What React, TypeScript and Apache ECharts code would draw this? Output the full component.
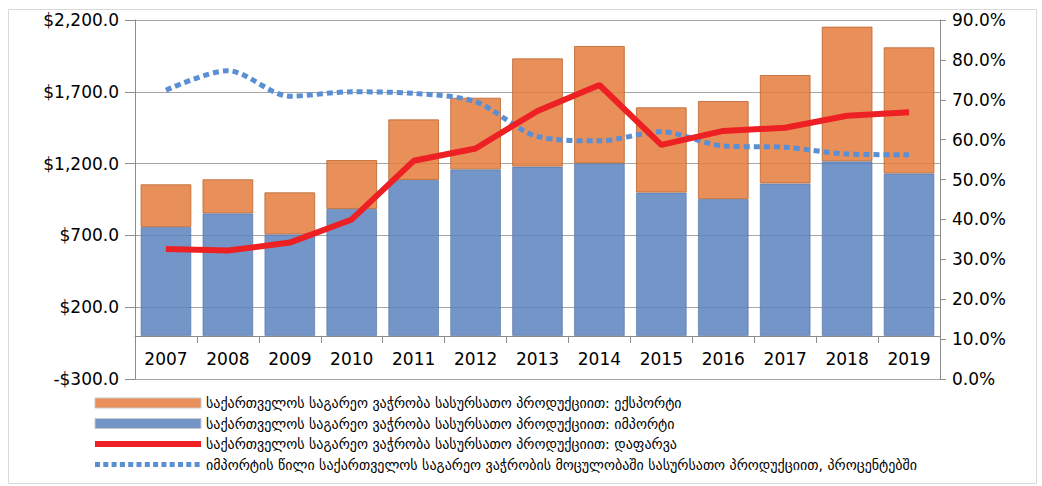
import React, { useEffect, useRef } from "react";
import * as echarts from "echarts";

const years = ["2007", "2008", "2009", "2010", "2011", "2012", "2013", "2014", "2015", "2016", "2017", "2018", "2019"];
const blueVals = [758, 854, 708, 884, 1086, 1160, 1179, 1202, 998, 953, 1062, 1216, 1132];
const orangeVals = [298, 237, 292, 341, 422, 499, 754, 817, 594, 683, 755, 938, 878];
const redVals = [32.6, 32.2, 34.2, 40.0, 54.7, 57.8, 67.2, 73.7, 58.7, 62.2, 63.0, 66.0, 66.9];
const dotVals = [72.4, 77.3, 70.9, 72.0, 71.6, 69.5, 60.8, 59.7, 62.0, 58.4, 58.1, 56.4, 56.2];

const leftTicks = { min: -300, max: 2200, step: 500 };
const rightTicks = { min: 0, max: 90, step: 10 };

const names = [
  "საქართველოს საგარეო ვაჭრობა სასურსათო პროდუქციით: ექსპორტი",
  "საქართველოს საგარეო ვაჭრობა სასურსათო პროდუქციით: იმპორტი",
  "საქართველოს საგარეო ვაჭრობა სასურსათო პროდუქციით: დაფარვა",
  "იმპორტის წილი საქართველოს საგარეო ვაჭრობის მოცულობაში სასურსათო პროდუქციით, პროცენტებში",
];

const FONT = "DejaVu Sans";

export default function App() {
  const ref = useRef<HTMLDivElement>(null);
  useEffect(() => {
    if (!ref.current) return;
    const chart = echarts.init(ref.current, undefined, { renderer: "svg" });
    const money = (v: number) =>
      (v < 0 ? "-" : "") +
      "$" +
      Math.abs(v).toLocaleString("en-US", { minimumFractionDigits: 1, maximumFractionDigits: 1 });
    chart.setOption({
      animation: false,
      textStyle: { fontFamily: FONT },
      graphic: [
        {
          type: "rect",
          shape: { x: 8.5, y: 9.5, width: 1028, height: 474 },
          style: { fill: "none", stroke: "#d9d9d9", lineWidth: 1 },
          silent: true,
        },
      ],
      grid: { left: 135, right: 102, top: 20, bottom: 107 },
      legend: {
        orient: "vertical",
        left: 87,
        top: 391,
        itemWidth: 106,
        itemHeight: 10,
        itemGap: 6.5,
        textStyle: { fontSize: 14, color: "#000", fontFamily: FONT },
        data: [
          { name: names[0], icon: "rect", itemStyle: { borderColor: "#c8c8c8", borderWidth: 1 } },
          { name: names[1], icon: "rect", itemStyle: { borderColor: "#c8c8c8", borderWidth: 1 } },
          { name: names[2], itemStyle: { opacity: 0 }, lineStyle: { width: 6, color: "#ED2024" } },
          {
            name: names[3],
            itemStyle: { opacity: 0 },
            lineStyle: { width: 5, color: "#5B8FD4", type: [5, 3.3], cap: "butt" },
          },
        ],
      },
      xAxis: {
        type: "category",
        data: years,
        axisLine: { onZero: true, onZeroAxisIndex: 0, lineStyle: { color: "#8c8c8c", width: 1 } },
        axisTick: { show: true, length: 7, lineStyle: { color: "#8c8c8c" } },
        axisLabel: { fontSize: 17, color: "#000", margin: -29, fontFamily: FONT },
        splitLine: { show: false },
      },
      yAxis: [
        {
          type: "value",
          position: "left",
          min: leftTicks.min,
          max: leftTicks.max,
          interval: leftTicks.step,
          axisLine: { show: true, lineStyle: { color: "#8c8c8c" } },
          axisTick: { show: true, length: 10, lineStyle: { color: "#8c8c8c" } },
          splitLine: { show: true, lineStyle: { color: "#a6a6a6", width: 1 } },
          axisLabel: { fontSize: 17, color: "#000", margin: 16, formatter: money, fontFamily: FONT },
        },
        {
          type: "value",
          position: "right",
          min: rightTicks.min,
          max: rightTicks.max,
          interval: rightTicks.step,
          axisLine: { show: true, lineStyle: { color: "#8c8c8c" } },
          axisTick: { show: true, length: 6, lineStyle: { color: "#8c8c8c" } },
          splitLine: { show: false },
          axisLabel: {
            fontSize: 17,
            color: "#000",
            margin: 12,
            formatter: (v: number) => v.toFixed(1) + "%",
            fontFamily: FONT,
          },
        },
      ],
      series: [
        {
          name: names[1],
          type: "bar",
          stack: "total",
          yAxisIndex: 0,
          barCategoryGap: "18%",
          data: blueVals,
          itemStyle: {
            color: "rgba(90,131,190,0.85)",
            borderColor: "rgba(80,110,160,0.6)",
            borderWidth: 1,
          },
          z: 2,
        },
        {
          name: names[0],
          type: "bar",
          stack: "total",
          yAxisIndex: 0,
          barCategoryGap: "18%",
          data: orangeVals,
          itemStyle: {
            color: "rgba(229,124,61,0.85)",
            borderColor: "rgba(185,100,45,0.8)",
            borderWidth: 1,
          },
          z: 2,
        },
        {
          name: names[2],
          type: "line",
          yAxisIndex: 1,
          data: redVals,
          symbol: "none",
          lineStyle: { color: "#ED2024", width: 6 },
          itemStyle: { color: "#ED2024" },
          z: 4,
        },
        {
          name: names[3],
          type: "line",
          yAxisIndex: 1,
          data: dotVals,
          smooth: 0.3,
          symbol: "none",
          lineStyle: { color: "#5B8FD4", width: 5, type: [6, 4], cap: "butt" },
          itemStyle: { color: "#5B8FD4" },
          z: 3,
        },
      ],
    });
    return () => chart.dispose();
  }, []);
  return (
    <div
      ref={ref}
      style={{ position: "fixed", left: 0, top: 0, width: 1042, height: 486, background: "#fff" }}
    />
  );
}
